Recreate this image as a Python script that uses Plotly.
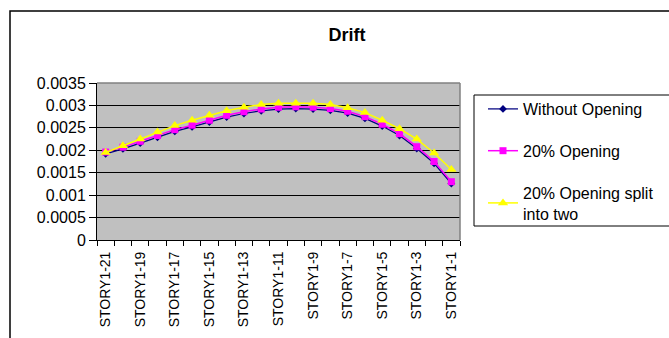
import plotly.graph_objects as go

# Storey labels, top of the building first
categories = [f"STORY1-{n}" for n in range(21, 0, -1)]

# Inter-storey drift for the three wall configurations
without_opening = [0.00192, 0.00203, 0.00216, 0.00229, 0.00242, 0.00252, 0.00263,
                   0.00274, 0.00282, 0.00288, 0.00292, 0.00293, 0.00292, 0.00289,
                   0.00283, 0.00271, 0.00254, 0.00233, 0.00204, 0.00171, 0.00126]
opening_20 = [0.00196, 0.00207, 0.00220, 0.00233, 0.00246, 0.00256, 0.00267,
              0.00278, 0.00286, 0.00292, 0.00296, 0.00297, 0.00296, 0.00293,
              0.00287, 0.00275, 0.00258, 0.00237, 0.00208, 0.00175, 0.00130]
opening_20_split = [0.00195, 0.00210, 0.00225, 0.00241, 0.00255, 0.00267, 0.00278,
                    0.00288, 0.00296, 0.00302, 0.00305, 0.00305, 0.00305, 0.00302,
                    0.00295, 0.00284, 0.00267, 0.00248, 0.00225, 0.00194, 0.00157]

y_ticks = [0, 0.0005, 0.001, 0.0015, 0.002, 0.0025, 0.003, 0.0035]

W, H = 669, 338
FONT = "Liberation Sans, Arial, sans-serif"

pos = list(range(len(categories)))

fig = go.Figure()
series = [
    ("Without Opening", without_opening, "#000080", "diamond", 6, 1.25),
    ("20% Opening", opening_20, "#FF00FF", "square", 7, 1.5),
    ("20% Opening split<br>into two", opening_20_split, "#FFFF00", "triangle-up", 9, 1.5),
]
for i, (name, vals, color, sym, size, lw) in enumerate(series):
    fig.add_trace(go.Scatter(
        x=pos, y=vals, name=name, mode="lines+markers",
        line=dict(color=color, width=lw),
        marker=dict(symbol=sym, size=size, color=color, line=dict(width=0)),
        legendgroup=f"g{i}",
    ))

def px_x(x):
    return x / W

def px_y(y):
    return 1 - y / H

fig.update_layout(
    width=W, height=H,
    margin=dict(l=0, r=0, t=0, b=0, autoexpand=False),
    paper_bgcolor="white",
    plot_bgcolor="#C0C0C0",
    font=dict(family=FONT, color="black"),
    title=dict(text="<b>Drift</b>", xref="container", yref="container",
               x=px_x(347), y=px_y(35), xanchor="center", yanchor="middle",
               font=dict(size=18, family=FONT, color="black")),
    xaxis=dict(
        domain=[px_x(97), px_x(460)],
        range=[-0.5, len(categories) - 0.5],
        tickmode="array", tickvals=pos[::2], ticktext=categories[::2],
        tickangle=-90, ticks="outside", ticklen=5, tickcolor="rgba(0,0,0,0)",
        tickfont=dict(size=14, family=FONT),
        showgrid=False, zeroline=False,
        showline=True, linecolor="black", linewidth=1,
        minor=dict(tickmode="linear", tick0=-0.5, dtick=1, ticks="outside",
                   ticklen=5, tickcolor="black", tickwidth=1, showgrid=False),
    ),
    yaxis=dict(
        domain=[px_y(240), px_y(83)],
        range=[0, 0.0035],
        tickmode="array", tickvals=y_ticks, tickformat="~g",
        ticks="outside", ticklen=7, tickcolor="black",
        tickfont=dict(size=16, family=FONT),
        showgrid=True, gridcolor="black", gridwidth=1,
        zeroline=False,
        showline=True, linecolor="black", linewidth=1,
    ),
    legend=dict(
        xref="container", yref="container",
        x=px_x(483), y=px_y(92), xanchor="left", yanchor="top",
        bgcolor="rgba(0,0,0,0)", borderwidth=0,
        font=dict(size=16, family=FONT, color="black"),
        traceorder="grouped", tracegroupgap=18,
    ),
    shapes=[
        # chart frame
        dict(type="rect", xref="paper", yref="paper",
             x0=px_x(10), y0=-0.1, x1=1.1, y1=px_y(11),
             line=dict(color="black", width=1.5), fillcolor="rgba(0,0,0,0)"),
        # legend frame
        dict(type="rect", xref="paper", yref="paper",
             x0=px_x(474), y0=px_y(226), x1=1.1, y1=px_y(95),
             line=dict(color="black", width=1), fillcolor="rgba(0,0,0,0)"),
        # plot area top and right borders
        dict(type="line", xref="x domain", yref="y domain",
             x0=0, x1=1, y0=1, y1=1, line=dict(color="#808080", width=1.5)),
        dict(type="line", xref="x domain", yref="y domain",
             x0=1, x1=1, y0=0, y1=1, line=dict(color="#808080", width=1.5)),
    ],
)

fig.write_html("out.html")
